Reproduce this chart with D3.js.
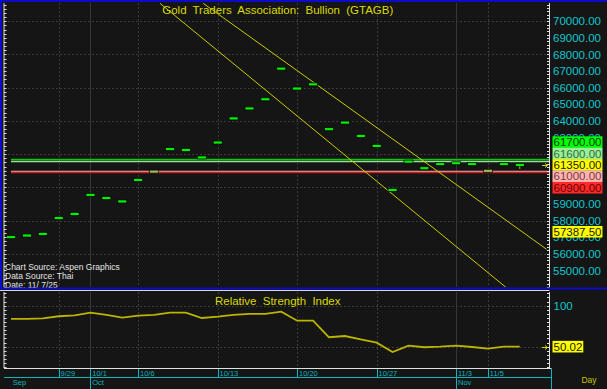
<!DOCTYPE html>
<html>
<head>
<meta charset="utf-8">
<script src="https://cdn.jsdelivr.net/npm/d3@7"></script>
<style>
html, body { margin: 0; padding: 0; background: #151515; }
svg { display: block; font-family: "Liberation Sans", Arial, sans-serif; }
</style>
</head>
<body>
<div id="chart"></div>
<script>
// trading days shown on the chart
const dates = ["9/24", "9/25", "9/26", "9/29", "9/30", "10/1", "10/2", "10/3", "10/6", "10/7",
    "10/8", "10/9", "10/10", "10/13", "10/14", "10/15", "10/16", "10/17", "10/20", "10/21",
    "10/22", "10/23", "10/24", "10/27", "10/28", "10/29", "10/30", "10/31", "11/3", "11/4",
    "11/5", "11/6", "11/7"];
const closes = [57000, 57100, 57200, 58150, 58400, 59550, 59350, 59150, 60450, 60950,
    62300, 62250, 61800, 62700, 64150, 64750, 65300, 67150, 65950, 66200,
    63500, 63900, 63100, 62500, 59850, 61550, 61150, 61400, 61450, 61400,
    61000, 61400, 61350];
const rsiValues = [83.8, 83.8, 84.6, 87.1, 88.3, 91.5, 88.7, 85.4, 87.8, 88.7,
    91.5, 91.5, 85.0, 86.6, 88.7, 89.9, 89.9, 92.7, 81.7, 81.7,
    61.5, 63.0, 59.0, 54.9, 43.5, 51.2, 49.3, 50.0, 51.2, 49.6,
    47.6, 50.0, 50.02];
const dateTicks = ["9/29", "10/1", "10/6", "10/13", "10/20", "10/27", "11/3", "11/5"];
const monthLabels = ["Sep", "Oct", "Nov"];
const monthStarts = ["9/24", "10/1", "11/3"];
const priceTicks = d3.range(55000, 70001, 1000);
const priceGrid = d3.range(56000, 70001, 2000);
const levels = [61700, 61600, 61000, 60900];
const markerPrice = 57387.50;
const rsiTicks = [100];
const rsiGrid = [50, 100];
// trend lines as [date index, price] pairs
const trendLines = [
    [[12.09, 71080], [33.69, 56270]],
    [[9.37, 71080], [31.18, 53940]]
];

const width = 607, height = 389;
const main = {left: 4, right: 549.5, top: 3, bottom: 287};
const lower = {top: 292, bottom: 368};
const boxHalf = 5.8;

const x = d3.scaleLinear().domain([-0.44, 33.87]).range([main.left, main.right]);
const y = d3.scaleLinear().domain([54000, 71100]).range([main.bottom, main.top]);
const yr = d3.scaleLinear().domain([24, 116.7]).range([lower.bottom, lower.top]);

const levelStyle = {
    61700: {line: "#12c412", bg: "#00ff00", fg: "#0a3a0a"},
    61600: {line: "#8ce88c", bg: "#98f098", fg: "#3a6a3a"},
    61000: {line: "#f0a0a0", bg: "#ffb4b4", fg: "#7a3a3a"},
    60900: {line: "#c42020", bg: "#ff2a2a", fg: "#6a0000"}
};

const svg = d3.select("#chart").append("svg")
    .attr("width", width)
    .attr("height", height);

svg.append("rect").attr("width", width).attr("height", height).attr("fill", "#151515");

svg.append("defs").append("clipPath").attr("id", "mainClip")
    .append("rect")
    .attr("x", main.left).attr("y", main.top)
    .attr("width", main.right - main.left).attr("height", main.bottom - main.top);

//Grid lines
const grid = svg.append("g");
grid.selectAll(".hgrid")
    .data(priceGrid)
    .enter().append("line")
    .attr("x1", main.left).attr("x2", main.right)
    .attr("y1", d => Math.round(y(d)) + 0.5).attr("y2", d => Math.round(y(d)) + 0.5)
    .attr("stroke", "#3a3a3a").attr("stroke-dasharray", "2,2");

function vgrid(top, bottom) {
    grid.append("g").selectAll("line")
        .data(dateTicks)
        .enter().append("line")
        .attr("x1", d => Math.round(x(dates.indexOf(d))) + 0.5)
        .attr("x2", d => Math.round(x(dates.indexOf(d))) + 0.5)
        .attr("y1", top).attr("y2", bottom)
        .attr("stroke", d => monthStarts.includes(d) ? "#363636" : "#3a3a3a")
        .attr("stroke-dasharray", d => monthStarts.includes(d) ? null : "2,2");
}
vgrid(main.top, main.bottom);
vgrid(lower.top, lower.bottom);

grid.selectAll(".rgrid")
    .data(rsiGrid)
    .enter().append("line")
    .attr("x1", main.left).attr("x2", main.right)
    .attr("y1", d => Math.round(yr(d)) + 0.5).attr("y2", d => Math.round(yr(d)) + 0.5)
    .attr("stroke", "#3a3a3a").attr("stroke-dasharray", "2,2");

//Title and source notes
svg.append("text")
    .attr("x", (main.left + main.right) / 2 + 1).attr("y", 14)
    .attr("text-anchor", "middle")
    .attr("font-size", "11.5px").attr("word-spacing", "3px")
    .attr("fill", "#dada00")
    .text("Gold Traders Association: Bullion (GTAGB)");

const notes = ["Chart Source: Aspen Graphics", "Data Source: Thai", "Date: 11/ 7/25"];
svg.selectAll(".note")
    .data(notes)
    .enter().append("text")
    .attr("x", 5).attr("y", (d, k) => 269.5 + k * 9.2)
    .attr("font-size", "8.5px").attr("fill", "#e4e4e4")
    .text(d => d);

//Level lines
svg.append("g").selectAll("line")
    .data(levels)
    .enter().append("line")
    .attr("x1", x(0)).attr("x2", main.right)
    .attr("y1", d => Math.round(y(d)) + 0.5).attr("y2", d => Math.round(y(d)) + 0.5)
    .attr("stroke", d => levelStyle[d].line).attr("stroke-width", 1.3);

//Trend lines
svg.append("g").attr("clip-path", "url(#mainClip)")
    .selectAll("line")
    .data(trendLines)
    .enter().append("line")
    .attr("x1", d => x(d[0][0])).attr("y1", d => y(d[0][1]))
    .attr("x2", d => x(d[1][0])).attr("y2", d => y(d[1][1]))
    .attr("stroke", "#cccc00").attr("stroke-width", 1);

//Close markers
const nearRed = v => Math.abs(v - 60950) <= 60;
svg.append("g").selectAll("rect")
    .data(closes)
    .enter().append("rect")
    .attr("x", (d, i) => x(i) - 4.5)
    .attr("y", d => y(d) - 1.5)
    .attr("width", 9).attr("height", 3)
    .attr("fill", d => nearRed(d) ? "#a4bc58" : "#00f000")
    .attr("stroke", "#000").attr("stroke-width", 0.7);

// small mark on the last bar
const last = closes.length - 1;
svg.append("line")
    .attr("x1", x(last)).attr("x2", x(last))
    .attr("y1", y(closes[last]) + 1.5).attr("y2", y(closes[last]) + 4)
    .attr("stroke", "#c8c800").attr("stroke-width", 1);

//RSI line
svg.append("path")
    .datum(rsiValues)
    .attr("fill", "none")
    .attr("stroke", "#bcb400").attr("stroke-width", 1.8)
    .attr("d", d3.line().x((d, i) => x(i)).y(d => yr(d)));

svg.append("text")
    .attr("x", (main.left + main.right) / 2 + 1).attr("y", 305)
    .attr("text-anchor", "middle")
    .attr("font-size", "11.5px").attr("word-spacing", "3px")
    .attr("fill", "#dada00")
    .text("Relative Strength Index");

//Stacked level labels: positions around the last price
const stacked = levels.concat([closes[last]]).sort((a, b) => b - a);
const anchorK = stacked.indexOf(closes[last]);
const boxes = stacked.map((v, k) => ({value: v, cy: y(closes[last]) + (k - anchorK) * 11.4}));
boxes.push({value: markerPrice, cy: y(markerPrice) + 1});

// a tick label that sits fully under the boxes is not visible
function hidden(cy) {
    const lo = cy - 4.5, hi = cy + 4.5;
    const spans = boxes.map(b => [b.cy - boxHalf, b.cy + boxHalf]).sort((a, b) => a[0] - b[0]);
    let reach = lo;
    spans.forEach(function (s) {
        if (s[0] <= reach && s[1] > reach) reach = s[1];
    });
    return reach >= hi;
}

//Right price axis
const priceAxis = d3.axisRight(y).tickValues(priceTicks.filter(d => !hidden(y(d))))
    .tickFormat(d3.format(".2f")).tickSize(0).tickPadding(3.5);
const pAxisG = svg.append("g")
    .attr("transform", "translate(" + main.right + ",0)")
    .call(priceAxis);
pAxisG.select(".domain").remove();
pAxisG.selectAll("text")
    .attr("font-size", "11.5px").attr("fill", "#12c6cc")
    .attr("font-family", "Liberation Sans, Arial, sans-serif");

function ruler(scale, step, domainLo, domainHi, xPos, dir, top, bottom, len) {
    const g = svg.append("g");
    g.append("line")
        .attr("x1", xPos).attr("x2", xPos).attr("y1", top).attr("y2", bottom)
        .attr("stroke", "#e0e0e0");
    g.selectAll("line.t")
        .data(d3.range(Math.ceil(domainLo / step) * step, domainHi + 0.001, step))
        .enter().append("line")
        .attr("x1", xPos).attr("x2", xPos + dir * len)
        .attr("y1", d => Math.round(scale(d)) + 0.5).attr("y2", d => Math.round(scale(d)) + 0.5)
        .attr("stroke", "#e0e0e0");
}
ruler(y, 200, 54000, 71000, main.right, -1, main.top, main.bottom, 2.5);
ruler(y, 250, 54000, 71000, main.left, 1, main.top, main.bottom, 2.5);
ruler(yr, 5, 25, 115, main.right, -1, lower.top, lower.bottom, 2.5);
ruler(yr, 5, 25, 115, main.left, 1, lower.top, lower.bottom, 2.5);

function labelBox(value, cy, bg, fg) {
    const g = svg.append("g");
    const t = g.append("text")
        .attr("x", 553.5).attr("y", cy).attr("dy", "0.36em")
        .attr("font-size", "11.5px").attr("fill", fg)
        .text(d3.format(".2f")(value));
    const w = t.node().getComputedTextLength();
    g.insert("rect", "text")
        .attr("x", 552.5).attr("y", cy - boxHalf)
        .attr("width", w + 2).attr("height", boxHalf * 2)
        .attr("fill", bg);
}
boxes.forEach(function (b) {
    const st = levelStyle[b.value] || {bg: "#ffff00", fg: "#1a1a00"};
    labelBox(b.value, b.cy, st.bg, st.fg);
});

// arrows for the last values
function arrow(cy) {
    svg.append("path")
        .attr("d", "M542," + cy + "H547M545," + (cy - 2) + "L547.5," + cy + "L545," + (cy + 2))
        .attr("stroke", "#d8d800").attr("fill", "none").attr("stroke-width", 1);
}
arrow(Math.round(y(closes[last])) + 0.5);
arrow(Math.round(yr(rsiValues[last])) + 0.5);

//RSI axis labels
svg.selectAll(".rsiLabel")
    .data(rsiTicks)
    .enter().append("text")
    .attr("x", 553.5).attr("y", d => yr(d)).attr("dy", "0.36em")
    .attr("font-size", "11.5px").attr("fill", "#12c6cc")
    .text(d => d);
labelBox(rsiValues[last], yr(rsiValues[last]), "#ffff00", "#1a1a00");

//Borders
svg.append("rect").attr("x", 0).attr("y", 0).attr("width", width).attr("height", 2).attr("fill", "#0c0cc8");
svg.append("rect").attr("x", 0).attr("y", 0).attr("width", 2).attr("height", 289).attr("fill", "#0c0cc8");
svg.append("rect").attr("x", 0).attr("y", 287.5).attr("width", width).attr("height", 2).attr("fill", "#0c0cc8");
svg.append("line").attr("x1", 0).attr("x2", main.right).attr("y1", 290.5).attr("y2", 290.5).attr("stroke", "#d8d8d8");

//Date axis
const dAxis = svg.append("g");
const axisColor = "#0cb4bc";
dAxis.append("line").attr("x1", main.left).attr("x2", 551).attr("y1", 368.5).attr("y2", 368.5).attr("stroke", "#e0e0e0");
dAxis.append("line").attr("x1", main.left).attr("x2", 551).attr("y1", 377.5).attr("y2", 377.5).attr("stroke", axisColor);
dAxis.append("line").attr("x1", 551.5).attr("x2", 551.5).attr("y1", 368).attr("y2", height).attr("stroke", axisColor);

dAxis.selectAll(".dtick")
    .data(dateTicks)
    .enter().append("line")
    .attr("x1", d => Math.round(x(dates.indexOf(d))) + 0.5)
    .attr("x2", d => Math.round(x(dates.indexOf(d))) + 0.5)
    .attr("y1", 369).attr("y2", 377)
    .attr("stroke", axisColor);
dAxis.selectAll(".dlabel")
    .data(dateTicks)
    .enter().append("text")
    .attr("x", d => x(dates.indexOf(d)) + 1.8)
    .attr("y", 376)
    .attr("font-size", "7.5px").attr("fill", axisColor)
    .text(d => d);

dAxis.selectAll(".mtick")
    .data(monthStarts.slice(1))
    .enter().append("line")
    .attr("x1", d => Math.round(x(dates.indexOf(d))) + 0.5)
    .attr("x2", d => Math.round(x(dates.indexOf(d))) + 0.5)
    .attr("y1", 369).attr("y2", height)
    .attr("stroke", axisColor);
dAxis.selectAll(".mlabel")
    .data(monthLabels)
    .enter().append("text")
    .attr("x", (d, k) => x(dates.indexOf(monthStarts[k])) + 1.8)
    .attr("y", 385)
    .attr("font-size", "7.5px").attr("fill", axisColor)
    .text(d => d);

svg.append("text")
    .attr("x", 589).attr("y", 382.5)
    .attr("text-anchor", "middle")
    .attr("font-size", "8.5px").attr("fill", "#c8c400")
    .text("Day");
</script>
</body>
</html>
